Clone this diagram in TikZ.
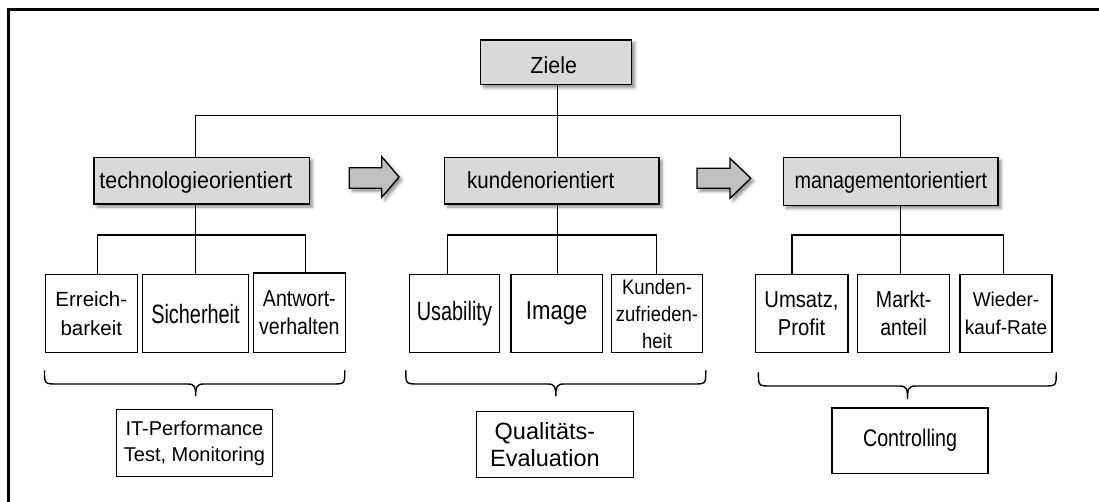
\documentclass[tikz,border=0pt]{standalone}
\usepackage{fontspec}
\setmainfont{Liberation Sans}
% Liberation Sans in several widths
\newfontfamily\lsA{Liberation Sans}[FakeStretch=1.0]
\newfontfamily\lsB{Liberation Sans}[FakeStretch=0.95]
\newfontfamily\lsC{Liberation Sans}[FakeStretch=0.92]
\newfontfamily\lsD{Liberation Sans}[FakeStretch=0.88]
\newfontfamily\lsE{Liberation Sans}[FakeStretch=0.85]
\newfontfamily\lsF{Liberation Sans}[FakeStretch=0.82]
\newfontfamily\lsG{Liberation Sans}[FakeStretch=0.75]
\usetikzlibrary{shadows.blur}

\definecolor{headgray}{HTML}{D9D9D9}
\definecolor{arrowgray}{HTML}{C0C0C0}

% horizontal curly brace: x-left, x-right, x-tip, y-top, y-middle, y-tip
\newcommand\curlybrace[6]{%
  \draw[curly] (#1,#4) .. controls (#1,#5) .. (#1+13,#5)
    -- (#3-8,#5) .. controls (#3-1,#5) and (#3,#5+3) .. (#3,#6)
    .. controls (#3,#5+3) and (#3+1,#5) .. (#3+8,#5)
    -- (#2-13,#5) .. controls (#2,#5) .. (#2,#4);}

\tikzset{
  softshadow/.style={blur shadow={shadow xshift=3pt, shadow yshift=-3pt,
      shadow blur radius=3pt, shadow opacity=45}},
  head/.style={draw, line width=1.4pt, fill=headgray, inner sep=0pt,
      anchor=north west, text depth=0pt, softshadow},
  leaf/.style={draw, line width=1.4pt, fill=white, inner sep=0pt,
      anchor=north west, align=center},
  wire/.style={line width=1.3pt},
  curly/.style={line width=1.4pt, line cap=round},
  flow/.style={draw, line width=1.3pt, fill=arrowgray, line join=miter, softshadow},
  frameline/.style={line width=2.5pt}
}

\begin{document}
\begin{tikzpicture}[x=1pt, y=-1pt]
\useasboundingbox (0,0) rectangle (1099,502);

% open frame along the left and top edges
\draw[frameline] (8.4,502) -- (8.4,9.5) -- (1099,9.5);

% top level and the three orientations
\node[head, minimum width=151pt, minimum height=44.7pt, text height=22.1pt,
      font={\lsC\fontsize{23.3}{28}\selectfont}] (ziele) at (480,39.3)
      {\hspace*{-5pt}Ziele};
\node[head, minimum width=215.4pt, minimum height=46.6pt, text height=16.6pt,
      font={\lsC\fontsize{23.3}{28}\selectfont}] (tech) at (93.3,156.7)
      {\hspace*{-11.6pt}technologieorientiert};
\node[head, minimum width=214.7pt, minimum height=46.6pt, text height=16.6pt,
      font={\lsD\fontsize{23.3}{28}\selectfont}] (kund) at (443.7,156.7)
      {\hspace*{-22pt}kundenorientiert};
\node[head, minimum width=214.3pt, minimum height=48pt, text height=15.2pt,
      font={\lsE\fontsize{23.3}{28}\selectfont}] (mgmt) at (783,156.7)
      {managementorientiert};

% block arrows between the orientations
\draw[flow] (349.3,167.7) -- (381.7,167.7) -- (381.7,156.7) -- (399,177)
  -- (381.7,197.3) -- (381.7,188.3) -- (349.3,188.3) -- cycle;
\draw[flow] (697,168.3) -- (730,168.3) -- (730,158.3) -- (750.7,178.3)
  -- (730,198.3) -- (730,188.3) -- (697,188.3) -- cycle;

% criteria boxes
\node[leaf, minimum width=92.3pt, minimum height=77.7pt,
      font={\lsA\fontsize{20.5}{28.7}\selectfont}] (err) at (44.5,274) {Erreich-\\barkeit};
\node[leaf, minimum width=105.6pt, minimum height=77.7pt,
      font={\lsG\fontsize{26.5}{30}\selectfont}] (sich) at (142,274) {Sicherheit};
\node[leaf, minimum width=92.3pt, minimum height=79.4pt,
      font={\lsE\fontsize{23}{28}\selectfont}] (antw) at (252.5,272.3) {Antwort-\\verhalten};

\node[leaf, minimum width=90.2pt, minimum height=77.7pt,
      font={\lsG\fontsize{26.5}{30}\selectfont}] (usab) at (408.6,274) {Usability};
\node[leaf, minimum width=91.3pt, minimum height=77.7pt,
      font={\lsE\fontsize{26}{30}\selectfont}] (img) at (510.3,274) {Image};
\node[leaf, minimum width=90.6pt, minimum height=77.7pt,
      font={\lsD\fontsize{21}{27}\selectfont}] (zufr) at (611,274) {Kunden-\\zufrieden-\\heit};

\node[leaf, minimum width=92.6pt, minimum height=77.7pt,
      font={\lsD\fontsize{23}{28}\selectfont}] (ums) at (754.5,274) {Umsatz,\\Profit};
\node[leaf, minimum width=91.9pt, minimum height=77.7pt,
      font={\lsE\fontsize{23}{28}\selectfont}] (markt) at (857,274) {Markt-\\anteil};
\node[leaf, minimum width=91.9pt, minimum height=77.7pt,
      font={\lsB\fontsize{20}{27.7}\selectfont}] (wied) at (959.4,274) {Wieder-\\kauf-Rate};

% measuring approaches
\node[leaf, minimum width=156.1pt, minimum height=66.7pt,
      font={\lsA\fontsize{20}{25.6}\selectfont}] (itp) at (115.7,409) {IT-Performance\\Test, Monitoring};
\node[leaf, minimum width=156.5pt, minimum height=65.7pt,
      font={\lsA\fontsize{23.5}{26.7}\selectfont}] (qual) at (476,411)
      {\hspace*{-20pt}Qualitäts-\\\hspace*{-20pt}Evaluation};
\node[leaf, minimum width=156pt, minimum height=65.4pt,
      font={\lsF\fontsize{24}{28}\selectfont}] (ctrl) at (831.4,407.3) {Controlling};

% junction points of the tree
\coordinate (bL) at (195.7,115.3);
\coordinate (bM) at (557.8,115.3);
\coordinate (bR) at (900.5,115.3);
\coordinate (tL) at (97.5,235);
\coordinate (tM) at (195.7,235);
\coordinate (tR) at (305.2,235);
\coordinate (kL) at (447.2,235);
\coordinate (kM) at (557.8,235);
\coordinate (kR) at (656.7,235);
\coordinate (mL) at (792,235);
\coordinate (mM) at (900.8,235);
\coordinate (mR) at (1003.2,235);

% tree connectors
\draw[wire] (ziele.south -| bM) -- (kund.north -| bM);
\draw[wire] (tech.north -| bL) -- (bL) -- (bR) -- (mgmt.north -| bR);

\draw[wire] (tech.south -| tM) -- (sich.north -| tM);
\draw[wire] (err.north -| tL) -- (tL) -- (tR) -- (antw.north -| tR);

\draw[wire] (kund.south -| kM) -- (img.north -| kM);
\draw[wire] (usab.north -| kL) -- (kL) -- (kR) -- (zufr.north -| kR);

\draw[wire] (mgmt.south -| mM) -- (markt.north -| mM);
\draw[wire] (ums.north -| mL) -- (mL) -- (mR) -- (wied.north -| mR);

% braces grouping the criteria
\curlybrace{44.5}{344.8}{195.7}{370.7}{384}{396}
\curlybrace{405.8}{705.8}{555.8}{370.7}{384}{396}
\curlybrace{758.4}{1056.2}{907.5}{372.7}{386}{399}
\end{tikzpicture}
\end{document}
